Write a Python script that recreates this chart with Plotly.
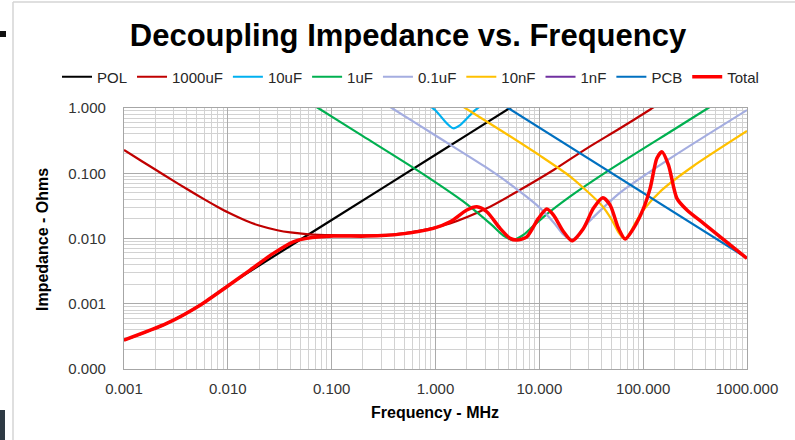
import plotly.graph_objects as go

# ---------------- data (frequency in MHz, impedance in Ohms) ----------------
freq_pol = [0.001, 0.00258, 0.0054, 0.00976, 0.02, 0.1, 1.0, 5.2, 6.5]
z_pol = [2.77e-4, 4.99e-4, 9.5e-4, 1.85e-3, 3.85e-3, 0.0192, 0.192, 1.0, 1.25]

freq_1000u = [0.001, 0.0015, 0.002, 0.003, 0.004, 0.006, 0.008, 0.01, 0.015, 0.02, 0.03, 0.04,
              0.06, 0.1, 0.2, 0.4, 0.711, 1.38, 3.12, 6.07, 13.7, 28.7, 60, 117, 140]
z_1000u = [0.227, 0.1515, 0.114, 0.0765, 0.0578, 0.0394, 0.0304, 0.0252, 0.0187, 0.0158, 0.0134,
           0.0124, 0.0116, 0.01123, 0.0112, 0.0116, 0.0132, 0.0170, 0.029, 0.052, 0.112, 0.241,
           0.489, 0.95, 1.15]

freq_10u = [0.8, 0.991, 1.285, 1.48, 1.726, 2.41, 2.9]
z_10u = [1.2, 0.93, 0.582, 0.489, 0.548, 0.93, 1.15]

freq_1u = [0.06, 0.074, 0.2, 0.711, 2.0, 3.5, 4.5, 5.6, 7.0, 8.0, 11, 20, 44.7, 200, 423, 520]
z_1u = [1.23, 1.0, 0.37, 0.104, 0.0337, 0.016, 0.0111, 0.0095, 0.0113, 0.0136, 0.0215, 0.0446,
        0.106, 0.473, 1.0, 1.23]

freq_01u = [0.3, 0.379, 1, 3, 5, 10, 14, 17, 20.5, 25, 30, 60, 200, 1000]
z_01u = [1.26, 1.0, 0.379, 0.126, 0.0717, 0.030, 0.017, 0.0115, 0.0095, 0.0125, 0.018, 0.0504,
         0.186, 0.93]

freq_10n = [1.5, 1.93, 5, 10, 20, 40, 50, 58, 66, 75, 85, 100, 150, 300, 1000]
z_10n = [1.29, 1.0, 0.386, 0.189, 0.088, 0.032, 0.0191, 0.0123, 0.0098, 0.0124, 0.0179, 0.027,
         0.0546, 0.127, 0.444]

freq_1n = [10, 100, 250, 600, 1000]
z_1n = [15.9, 1.65, 1.3, 2.2, 3.5]

freq_pcb = [4, 5, 1000]
z_pcb = [1.25, 1.0, 0.005]

freq_total = [0.001, 0.00258, 0.0054, 0.00976, 0.01637, 0.02743, 0.04273, 0.0576, 0.1038, 0.2178,
              0.456, 0.955, 1.383, 2.004, 2.50, 3.12, 4.19, 5.23, 6.07, 7.58,
              9.80, 11.8, 13.7, 17.1, 20.6, 26.6, 33.2, 40.9, 48.1, 57.8,
              67.1, 80.7, 100.7, 116.7, 135.5, 151.4, 175.4, 211.3, 263.8, 381,
              552, 1000]
z_total = [2.77e-4, 4.99e-4, 9.5e-4, 1.82e-3, 3.28e-3, 5.91e-3, 8.9e-3, 0.01004, 0.01088, 0.01088,
           0.01167, 0.01429, 0.01803, 0.0273, 0.0306, 0.0257, 0.01429, 0.01004, 0.00945, 0.01062,
           0.02033, 0.0282, 0.02285, 0.01267, 0.00922, 0.01429, 0.029, 0.0421, 0.0325, 0.01429,
           0.0098, 0.01429, 0.029, 0.0587, 0.1693, 0.2137, 0.1336, 0.0412, 0.0273, 0.01706,
           0.01062, 0.00495]

x_tickvals = [0.001, 0.01, 0.1, 1, 10, 100, 1000]
x_ticktext = ["0.001", "0.010", "0.100", "1.000", "10.000", "100.000", "1000.000"]
y_tickvals = [0.0001, 0.001, 0.01, 0.1, 1]
y_ticktext = ["0.000", "0.001", "0.010", "0.100", "1.000"]

series = [
    ("POL", freq_pol, z_pol, "#000000", 2.2),
    ("1000uF", freq_1000u, z_1000u, "#C00000", 2.2),
    ("10uF", freq_10u, z_10u, "#00B0F0", 2.2),
    ("1uF", freq_1u, z_1u, "#00B050", 2.2),
    ("0.1uF", freq_01u, z_01u, "#A4ADE0", 2.2),
    ("10nF", freq_10n, z_10n, "#FFC000", 2.2),
    ("1nF", freq_1n, z_1n, "#7030A0", 2.2),
    ("PCB", freq_pcb, z_pcb, "#0070C0", 2.2),
    ("Total", freq_total, z_total, "#FF0000", 3.5),
]

FONT = "Liberation Sans, Arial, sans-serif"

fig = go.Figure()
for name, xs, ys, col, w in series:
    fig.add_trace(go.Scatter(
        x=xs, y=ys, name=name, mode="lines",
        line=dict(color=col, width=w, shape="spline", smoothing=0.7),
    ))

W, H = 795, 440
L, R, T, B = 124, 48, 108, 71
pw, ph = W - L - R, H - T - B

def px(xp):
    return (xp - L) / pw

def py(yp):
    return (H - B - yp) / ph

axis_common = dict(
    type="log",
    showline=True, mirror=True, linecolor="#A6A6A6", linewidth=1.2,
    showgrid=True, gridcolor="#ABABAB", gridwidth=1.2,
    zeroline=False,
    tickfont=dict(family=FONT, size=15, color="#333333"),
    ticks="",
    minor=dict(dtick="D1", showgrid=True, gridcolor="#D2D2D2", gridwidth=1),
)

fig.update_layout(
    width=W, height=H,
    margin=dict(l=L, r=R, t=T, b=B, pad=0),
    paper_bgcolor="white", plot_bgcolor="white",
    showlegend=True,
    title=dict(text="<b>Decoupling Impedance vs. Frequency</b>",
               font=dict(family=FONT, size=31, color="#000000"),
               x=px(408), xref="paper", xanchor="center",
               y=1 - 35 / H, yref="container", yanchor="middle"),
    legend=dict(orientation="h", x=px(57), xanchor="left", y=py(77), yanchor="middle",
                font=dict(family=FONT, size=15, color="#262626"),
                bgcolor="rgba(0,0,0,0)", itemwidth=30, tracegroupgap=0),
    xaxis=dict(axis_common, range=[-3, 3], tickvals=x_tickvals, ticktext=x_ticktext,
               ticklabelstandoff=6),
    yaxis=dict(axis_common, range=[-4, 0], tickvals=y_tickvals, ticktext=y_ticktext,
               ticklabelstandoff=14),
    annotations=[
        dict(text="<b>Impedance - Ohms</b>", textangle=-90, x=px(42), y=py(240),
             xref="paper", yref="paper", showarrow=False, xanchor="center", yanchor="middle",
             font=dict(family=FONT, size=16, color="#000000")),
        dict(text="<b>Frequency - MHz</b>", x=px(435), y=py(412),
             xref="paper", yref="paper", showarrow=False, xanchor="center", yanchor="middle",
             font=dict(family=FONT, size=16, color="#000000")),
    ],
    shapes=[
        dict(type="line", xref="paper", yref="paper", x0=px(13), x1=px(13), y0=py(2), y1=py(441),
             line=dict(color="#D4D4D4", width=1.5)),
        dict(type="line", xref="paper", yref="paper", x0=px(13), x1=px(796), y0=py(2), y1=py(2),
             line=dict(color="#D4D4D4", width=1.5)),
        dict(type="rect", xref="paper", yref="paper", x0=px(0), x1=px(6), y0=py(31), y1=py(37),
             line=dict(width=0), fillcolor="#111111"),
        dict(type="rect", xref="paper", yref="paper", x0=px(0), x1=px(5), y0=py(410), y1=py(441),
             line=dict(width=0), fillcolor="#2E3A44"),
    ],
)

fig.write_html("out.html")
